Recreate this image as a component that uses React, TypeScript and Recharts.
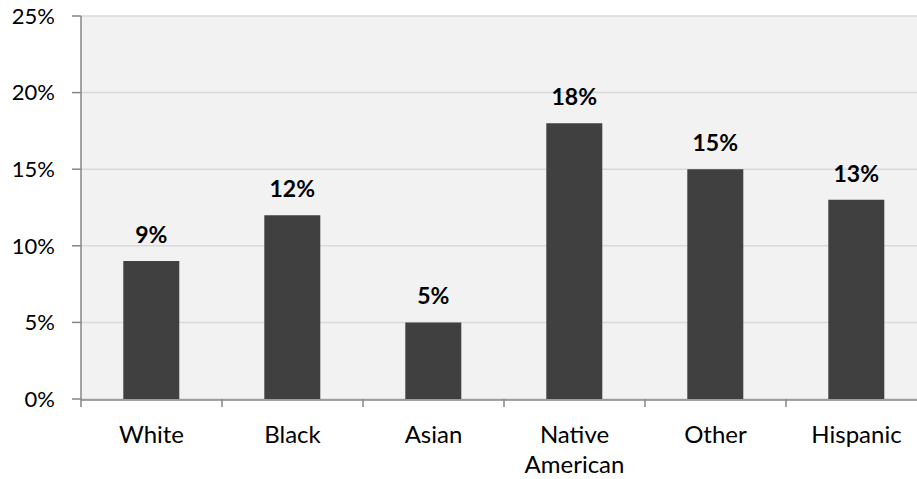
import React from "react";
import { BarChart, Bar, XAxis, YAxis, CartesianGrid, LabelList } from "recharts";

const categories = ["White", "Black", "Asian", "Native American", "Other", "Hispanic"];
const rates = [9, 12, 5, 18, 15, 13];
const yTicks = [0, 5, 10, 15, 20, 25];
const boundaryTicks = [0, 1, 2, 3, 4, 5, 6];

const data = categories.map((name, i) => ({ name, value: rates[i], pos: i + 0.5 }));

const FONT = "Lato, 'Open Sans', sans-serif";

const CategoryTick = (props: any) => {
  const { x, y, payload } = props;
  const label: string = payload.value;
  const lines = label.length > 10 ? label.split(" ") : [label];
  return (
    <text x={x} y={y} textAnchor="middle" fill="#000" fontSize={24} fontFamily={FONT}>
      {lines.map((l, i) => (
        <tspan key={i} x={x} dy={i === 0 ? 16 : 30}>
          {l}
        </tspan>
      ))}
    </text>
  );
};

export default function App() {
  return (
    <div
      style={{
        position: "absolute",
        left: 0,
        top: 0,
        width: 917,
        height: 479,
        overflow: "hidden",
        background: "#fff",
      }}
    >
      <BarChart
        width={927}
        height={479}
        data={data}
        margin={{ top: 16, right: 0, bottom: 0, left: 0 }}
        barCategoryGap="30%"
      >
        <CartesianGrid
          vertical={false}
          stroke="#d9d9d9"
          strokeWidth={1.5}
          fill="#f2f2f2"
          xAxisId="b"
        />
        <XAxis
          xAxisId="b"
          dataKey="name"
          type="category"
          interval={0}
          tickLine={false}
          axisLine={{ stroke: "#868686", strokeWidth: 1.5 }}
          height={79}
          tickSize={8}
          tickMargin={19}
          tick={<CategoryTick />}
        />
        <XAxis
          xAxisId="a"
          dataKey="pos"
          type="number"
          domain={[0, 6]}
          ticks={boundaryTicks}
          interval={0}
          tickFormatter={() => ""}
          tick={{ fontSize: 1 }}
          tickSize={8}
          tickLine={{ stroke: "#868686", strokeWidth: 1.5 }}
          axisLine={false}
          height={1}
          allowDataOverflow
        />
        <YAxis
          domain={[0, 25]}
          ticks={yTicks}
          width={81}
          tickSize={9}
          tickMargin={17}
          tickFormatter={(v: number) => `${v}%`}
          tick={{ fill: "#000", fontSize: 22, fontFamily: FONT }}
          tickLine={{ stroke: "#868686", strokeWidth: 1.5 }}
          axisLine={{ stroke: "#868686", strokeWidth: 1.5 }}
        />
        <Bar dataKey="value" xAxisId="b" fill="#404040" isAnimationActive={false}>
          <LabelList
            dataKey="value"
            position="top"
            offset={18}
            formatter={(v: any) => `${v}%`}
            style={{ fill: "#000", fontSize: 23, fontWeight: 700, fontFamily: FONT }}
          />
        </Bar>
      </BarChart>
    </div>
  );
}
